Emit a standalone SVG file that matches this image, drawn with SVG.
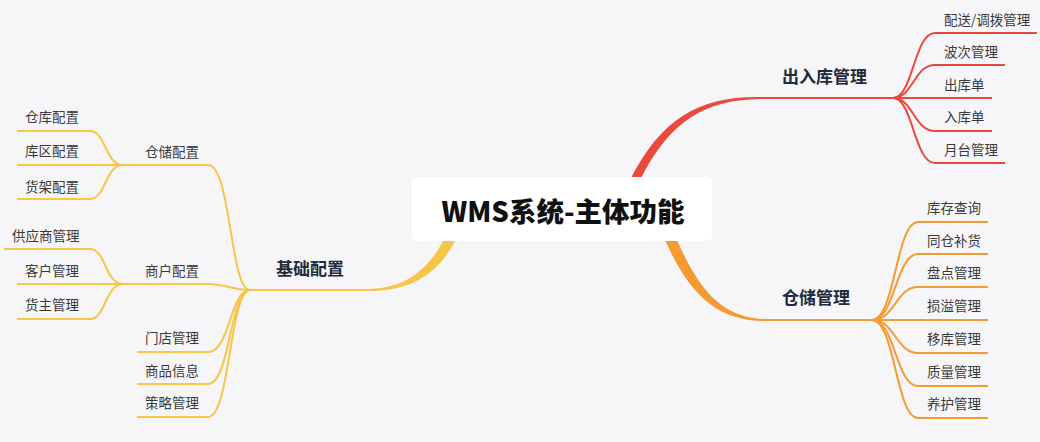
<svg xmlns="http://www.w3.org/2000/svg" width="1040" height="442" viewBox="0 0 1040 442">
<style>
.leaf{font-family:"Noto Sans CJK SC","Noto Sans",sans-serif;font-size:13.5px;fill:#3a3a3a}
.mid{font-family:"Noto Sans CJK SC","Noto Sans",sans-serif;font-size:17px;font-weight:bold;fill:#1f2a3c}
.title{font-family:"Noto Sans CJK SC","Noto Sans",sans-serif;font-size:27.5px;font-weight:900;fill:#111}
.r{fill:none;stroke:#ea4a3d;stroke-width:2}
.o{fill:none;stroke:#f59a33;stroke-width:2}
.y{fill:none;stroke:#f7c646;stroke-width:2}
</style>
<rect width="1040" height="442" fill="#f6f6f8"/>
<g id="connectors">
  <path d="M631,178 C662,118 700,96 760,97 L760,99 C703,100 670,122 641,178 Z" fill="#ea4a3d"/>
  <path class="r" d="M758,98 H893"/>
  <path class="r" d="M893,98 C913,98 914,33 935,33 H1037"/>
  <path class="r" d="M893,98 C913,98 914,65 935,65 H1005"/>
  <path class="r" d="M893,98 H992"/>
  <path class="r" d="M893,98 C913,98 914,131 935,131 H992"/>
  <path class="r" d="M893,98 C913,98 914,163 935,163 H1005"/>

  <path d="M665,240 C690,296 718,321 765,321 L765,319 C722,318 699,290 677,240 Z" fill="#f59a33"/>
  <path class="o" d="M763,320 H872"/>
  <path class="o" d="M872,320 C895,320 896,222 918,222 H988"/>
  <path class="o" d="M872,320 C895,320 896,254 918,254 H988"/>
  <path class="o" d="M872,320 C895,320 896,287 918,287 H988"/>
  <path class="o" d="M872,320 H988"/>
  <path class="o" d="M872,320 C895,320 896,353 918,353 H988"/>
  <path class="o" d="M872,320 C895,320 896,386 918,386 H988"/>
  <path class="o" d="M872,320 C895,320 896,418 918,418 H988"/>

  <path d="M443,241 C425,275 400,289 365,289 L365,291 C405,292 436,278 455,241 Z" fill="#f7c646"/>
  <path class="y" d="M368,290 H250"/>
  <path class="y" d="M250,290 C230,290 231,165 208,165 H123"/>
  <path class="y" d="M250,290 C232,290 226,284 208,284 H123"/>
  <path class="y" d="M250,290 C230,290 230,352 208,352 H137"/>
  <path class="y" d="M250,290 C230,290 230,384 208,384 H137"/>
  <path class="y" d="M250,290 C230,290 230,417 208,417 H137"/>
  <path class="y" d="M123,165 C105,165 106,131 90,131 H17"/>
  <path class="y" d="M123,165 H17"/>
  <path class="y" d="M123,165 C105,165 106,199 90,199 H17"/>
  <path class="y" d="M123,284 C105,284 106,249 90,249 H4"/>
  <path class="y" d="M123,284 H17"/>
  <path class="y" d="M123,284 C105,284 106,319 90,319 H17"/>
</g>
<g id="root">
  <rect x="412" y="177" width="300" height="64" rx="6" fill="#fff"/>
  <text class="title" x="563" y="222" text-anchor="middle">WMS系统-主体功能</text>
</g>
<g id="n-churuku"><text class="mid" x="782" y="83">出入库管理</text></g>
<g id="n-peisong"><text class="leaf" x="944" y="25">配送/调拨管理</text></g>
<g id="n-boci"><text class="leaf" x="944" y="57">波次管理</text></g>
<g id="n-chukudan"><text class="leaf" x="944" y="90">出库单</text></g>
<g id="n-rukudan"><text class="leaf" x="944" y="122">入库单</text></g>
<g id="n-yuetai"><text class="leaf" x="944" y="155">月台管理</text></g>

<g id="n-cangchu"><text class="mid" x="782" y="304">仓储管理</text></g>
<g id="n-kucun"><text class="leaf" x="927" y="213">库存查询</text></g>
<g id="n-tongcang"><text class="leaf" x="927" y="246">同仓补货</text></g>
<g id="n-pandian"><text class="leaf" x="927" y="278">盘点管理</text></g>
<g id="n-sunyi"><text class="leaf" x="927" y="311">损溢管理</text></g>
<g id="n-yiku"><text class="leaf" x="927" y="344">移库管理</text></g>
<g id="n-zhiliang"><text class="leaf" x="927" y="377">质量管理</text></g>
<g id="n-yanghu"><text class="leaf" x="927" y="409">养护管理</text></g>

<g id="n-jichu"><text class="mid" x="276" y="275">基础配置</text></g>
<g id="n-ccpz"><text class="leaf" x="145" y="157">仓储配置</text></g>
<g id="n-shpz"><text class="leaf" x="145" y="276">商户配置</text></g>
<g id="n-mendian"><text class="leaf" x="145" y="343">门店管理</text></g>
<g id="n-shangpin"><text class="leaf" x="145" y="376">商品信息</text></g>
<g id="n-celue"><text class="leaf" x="145" y="408">策略管理</text></g>
<g id="n-ckpz"><text class="leaf" x="25" y="122">仓库配置</text></g>
<g id="n-kqpz"><text class="leaf" x="25" y="156">库区配置</text></g>
<g id="n-hjpz"><text class="leaf" x="25" y="192">货架配置</text></g>
<g id="n-gys"><text class="leaf" x="12" y="241">供应商管理</text></g>
<g id="n-kehu"><text class="leaf" x="25" y="276">客户管理</text></g>
<g id="n-huozhu"><text class="leaf" x="25" y="310">货主管理</text></g>
</svg>
